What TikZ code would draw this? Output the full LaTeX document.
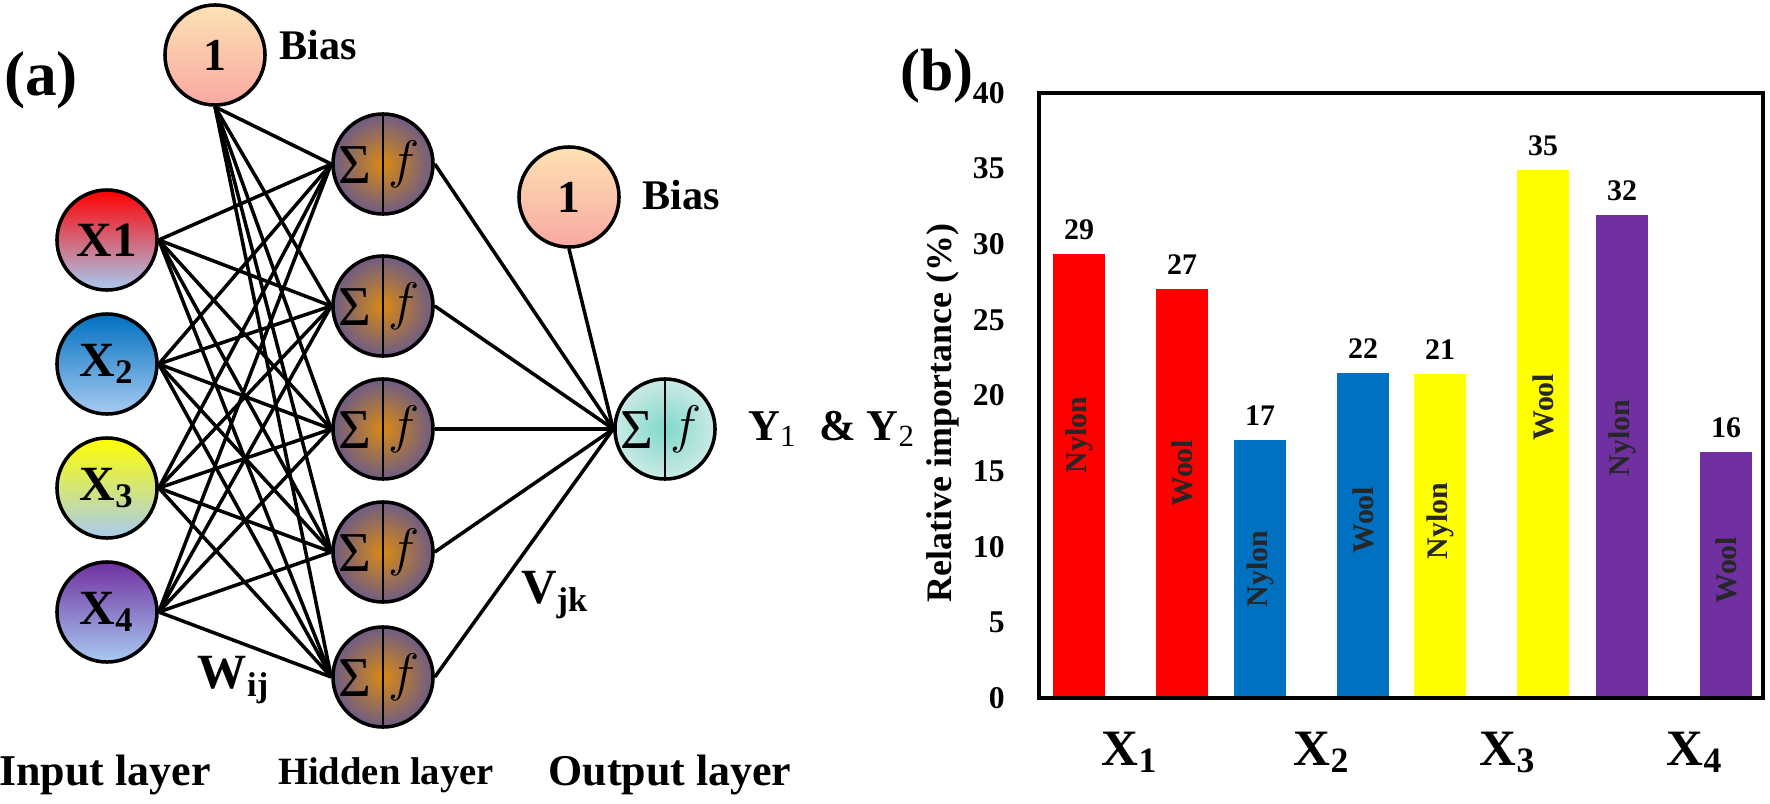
\RequirePackage{fix-cm}
\documentclass[tikz,border=0pt]{standalone}
\usepackage[no-math]{fontspec}
\setmainfont{Liberation Serif}

\definecolor{barred}{HTML}{FF0000}
\definecolor{barblue}{HTML}{0070C0}
\definecolor{baryellow}{HTML}{FFFF00}
\definecolor{barpurple}{HTML}{7030A0}
\definecolor{hidin}{HTML}{D98A12}
\definecolor{hidout}{HTML}{6E5C85}
\definecolor{outin}{HTML}{80D8CB}
\definecolor{outout}{HTML}{CBEAE5}
\definecolor{skyend}{HTML}{A8CBF2}
\definecolor{biastop}{HTML}{FDE2B4}
\definecolor{biasbot}{HTML}{F9A8A2}

\newcommand{\fsz}[1]{\fontsize{#1}{#1}\selectfont}
\newcommand{\lsub}[1]{\textsubscript{\mdseries #1}}

\tikzset{
  unit/.style={circle, draw, line width=1pt, minimum size=1cm, inner sep=0pt},
  inp/.style={unit, top color=#1, bottom color=skyend, font=\fsz{14}\bfseries},
  biasnode/.style={unit, top color=biastop, bottom color=biasbot, font=\fsz{13}\bfseries},
  neuron/.style 2 args={unit, inner color=#1, outer color=#2,
    path picture={
      \draw[line width=0.7pt] (path picture bounding box.north) -- (path picture bounding box.south);
      \node[inner sep=0pt] at ([xshift=-0.28cm,yshift=-0.01cm]path picture bounding box.center) {\fsz{16}Σ};
      \node[inner sep=0pt] at ([xshift=0.21cm]path picture bounding box.center) {\fsz{15}$f$};
    }},
  wire/.style={line width=1pt},
  txt/.style={font=\fsz{#1}\bfseries},
  vallab/.style={font=\fsz{8.5}\bfseries},
  kindlab/.style={font=\fsz{8.5}\bfseries, rotate=90, text=black!85},
  ticklab/.style={font=\fsz{9}\bfseries, anchor=east},
}

\begin{document}
\begin{tikzpicture}[x=0.01cm, y=-0.01cm]
\useasboundingbox (0,0) rectangle (1770,803);

% (a) network
\node[inp=barred] (x1) at (107,240) {X1};
\node[inp=barblue] (x2) at (107,364) {X\textsubscript{2}};
\node[inp=baryellow] (x3) at (107,488) {X\textsubscript{3}};
\node[inp=barpurple] (x4) at (107,612) {X\textsubscript{4}};
\node[biasnode] (b1) at (215,55) {1};
\node[biasnode] (b2) at (569,197) {1};
\foreach \j/\y in {1/164,2/306,3/429,4/552,5/677}
  \node[neuron={hidin}{hidout}] (h\j) at (383,\y) {};
\node[neuron={outin}{outout}] (out) at (665,429) {};

\foreach \i in {1,...,4}
  \foreach \j in {1,...,5}
    \draw[wire] (x\i.east) -- (h\j.west);
\foreach \j in {1,...,5} {
  \draw[wire] (b1.south) -- (h\j.west);
  \draw[wire] (h\j.east) -- (out.west);
}
\draw[wire] (b2.south) -- (out.west);

\node[txt=18] (taga) at (41,80) {(a)};
\node[txt=12] (biasa) at (318,45) {Bias};
\node[txt=12] (biasb) at (681,195) {Bias};
\node[txt=12.5, anchor=west] (ylab) at (736,429) {Y\lsub{1}\ \ \& Y\lsub{2}};
\node[txt=14] (wij) at (234,680) {W\textsubscript{ij}};
\node[txt=14] (vjk) at (555,595) {V\textsubscript{jk}};
\node[txt=12.5] (linp) at (105,775) {Input layer};
\node[txt=11] (lhid) at (386,775) {Hidden layer};
\node[txt=12.5] (lout) at (670,775) {Output layer};

% (b) chart
\node[txt=17] (tagb) at (937,76) {(b)};
\foreach \xl/\yt/\col/\val/\kind/\ky in {1053/254/barred/29/Nylon/435, 1156/289/barred/27/Wool/473,
    1234/440/barblue/17/Nylon/569, 1337/373/barblue/22/Wool/520,
    1414/374/baryellow/21/Nylon/521, 1517/170/baryellow/35/Wool/407,
    1596/215/barpurple/32/Nylon/438, 1700/452/barpurple/16/Wool/570} {
  \fill[\col] (\xl,698) rectangle (\xl+52,\yt);
  \node[vallab] at (\xl+26,\yt-24) {\val};
  \node[kindlab] at (\xl+26,\ky) {\kind};
}
\draw[line width=1.1pt] (1039,93) rectangle (1763,698);
\foreach \v in {0,5,...,40}
  \node[ticklab] at (1017,698-15.125*\v) {\v};
\node[txt=10.2, rotate=90] (ytitle) at (943,413) {Relative importance (\%)};
\foreach \x/\n in {1130/1,1322/2,1508/3,1695/4}
  \node[txt=14.5, anchor=base] at (\x,765) {X\textsubscript{\n}};
\end{tikzpicture}
\end{document}
